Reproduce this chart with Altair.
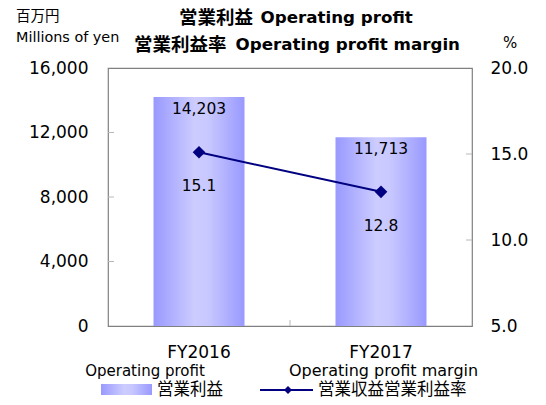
import altair as alt
import pandas as pd

# ---- data ----
YEARS = ["FY2016", "FY2017"]
PROFIT = [14203, 11713]
MARGIN = [15.1, 12.8]
PROFIT_LABELS = ["14,203", "11,713"]
MARGIN_LABELS = ["15.1", "12.8"]
LEFT_TICKS = [0, 4000, 8000, 12000, 16000]
RIGHT_TICKS = [5, 10, 15, 20]
LEFT_INNER = [4000, 8000, 12000]
RIGHT_INNER = [10, 15]

TITLE1_JP = "営業利益"
TITLE1_EN = "Operating profit"
TITLE2_JP = "営業利益率"
TITLE2_EN = "Operating profit margin"
UNIT_JP = "百万円"
UNIT_EN = "Millions of yen"
UNIT_PCT = "%"
LEG1_EN = "Operating profit"
LEG1_JP = "営業利益"
LEG2_EN = "Operating profit margin"
LEG2_JP = "営業収益営業利益率"

# ---- style ----
W, H = 364, 258
FONT = "DejaVu Sans, Noto Sans CJK JP"
CJK = "Noto Sans CJK JP, DejaVu Sans"
NAVY = "#000080"
TICK_GRAY = "#b8b8b8"
GRAD = {
    "gradient": "linear", "x1": 0, "x2": 1, "y1": 0, "y2": 0,
    "stops": [
        {"offset": 0, "color": "#9999ff"},
        {"offset": 0.45, "color": "#ccccff"},
        {"offset": 0.6, "color": "#c8c8ff"},
        {"offset": 1, "color": "#9999ff"},
    ],
}

df = pd.DataFrame({"year": YEARS, "profit": PROFIT, "margin": MARGIN,
                   "pl": PROFIT_LABELS, "ml": MARGIN_LABELS})
base = alt.Chart(df)
one = pd.DataFrame({"k": [0]})

x = alt.X("year:N", sort=YEARS,
          scale=alt.Scale(paddingInner=0.5, paddingOuter=0.25),
          axis=alt.Axis(title=None, labelAngle=0, domain=False, ticks=False,
                        labelFontSize=17, labelPadding=18, labelFont=FONT,
                        labelColor="#000"))

yl_scale = alt.Scale(domain=[0, 16000], nice=False, zero=True)
yr_scale = alt.Scale(domain=[5, 20], nice=False, zero=False)
yl_axis = alt.Axis(values=LEFT_TICKS, format=",.0f", title=None, domain=False,
                   ticks=False, grid=False, labelFontSize=17, labelPadding=20,
                   labelFont=FONT, labelColor="#000")
yr_axis = alt.Axis(orient="right", values=RIGHT_TICKS, format=".1f",
                   title=None, domain=False, ticks=False, grid=False,
                   labelFontSize=17, labelPadding=18, labelFont=FONT,
                   labelColor="#000")

bars = base.mark_bar(color=GRAD).encode(
    x=x, y=alt.Y("profit:Q", scale=yl_scale, axis=yl_axis))
bar_labels = base.mark_text(dy=12, fontSize=15.5, font=FONT, color="#000",
                            baseline="middle").encode(
    x=x, y=alt.Y("profit:Q", scale=yl_scale, axis=yl_axis), text="pl:N")

left_inner = alt.Chart(pd.DataFrame({"profit": LEFT_INNER})).mark_rule(
    color=TICK_GRAY).encode(
    y=alt.Y("profit:Q", scale=yl_scale, axis=yl_axis),
    x=alt.value(0), x2=alt.value(6))

mid_tick = alt.Chart(one).mark_rule(color=TICK_GRAY).encode(
    x=alt.value(W / 2), y=alt.value(H - 6), y2=alt.value(H))


def label(text, xv, yv, size, align="left", weight="normal", font=FONT):
    return alt.Chart(one).mark_text(text=text, align=align, baseline="middle",
                                    fontSize=size, font=font, color="#000",
                                    fontWeight=weight).encode(
        x=alt.value(xv), y=alt.value(yv))


annotations = [
    label(TITLE1_JP, 71, -50, 18.5, "left", "bold", CJK),
    label(TITLE1_EN, 152.5, -50, 16.7, "left", "bold"),
    label(TITLE2_JP, 26, -23, 18.5, "left", "bold", CJK),
    label(TITLE2_EN, 127.5, -23, 16.7, "left", "bold"),
    label(UNIT_JP, -92, -51, 14.5, font=CJK),
    label(UNIT_EN, -92, -30, 14.4),
    label(UNIT_PCT, 402, -25, 15, "center"),
    label(LEG1_EN, 37, 303, 15, "center"),
    label(LEG1_JP, 49, 322, 16.5, font=CJK),
    label(LEG2_EN, 181, 303, 16),
    label(LEG2_JP, 210, 322, 16.5, font=CJK),
]

leg_swatch = alt.Chart(one).mark_rect(color=GRAD).encode(
    x=alt.value(-7), x2=alt.value(44), y=alt.value(316), y2=alt.value(327))
leg_line = alt.Chart(one).mark_rule(color=NAVY, strokeWidth=2).encode(
    x=alt.value(152), x2=alt.value(205), y=alt.value(322))
leg_pt = alt.Chart(one).mark_point(shape="diamond", filled=True, size=64,
                                   color=NAVY, opacity=1).encode(
    x=alt.value(180), y=alt.value(322))

left = alt.layer(bars, bar_labels, left_inner, mid_tick, leg_swatch, leg_line,
                 leg_pt, *annotations)

line = base.mark_line(color=NAVY, strokeWidth=2).encode(
    x=x, y=alt.Y("margin:Q", scale=yr_scale, axis=yr_axis))
points = base.mark_point(shape="diamond", filled=True, size=160, color=NAVY,
                         opacity=1).encode(
    x=x, y=alt.Y("margin:Q", scale=yr_scale, axis=yr_axis))
margin_labels = base.mark_text(dy=34, fontSize=15.5, font=FONT, color="#000",
                               baseline="middle").encode(
    x=x, y=alt.Y("margin:Q", scale=yr_scale, axis=yr_axis), text="ml:N")
right_inner = alt.Chart(pd.DataFrame({"margin": RIGHT_INNER})).mark_rule(
    color=TICK_GRAY).encode(
    y=alt.Y("margin:Q", scale=yr_scale, axis=yr_axis),
    x=alt.value(W - 6), x2=alt.value(W))

right = alt.layer(line, points, margin_labels, right_inner)

chart = alt.layer(left, right).resolve_scale(y="independent").properties(
    width=W, height=H,
    padding={"left": 100, "top": 60, "right": 60, "bottom": 73},
    autosize=alt.AutoSizeParams(type="none"),
).configure_view(stroke="#808080", strokeWidth=1.2)

chart.save("out.html", embed_options={"renderer": "svg", "actions": False})
